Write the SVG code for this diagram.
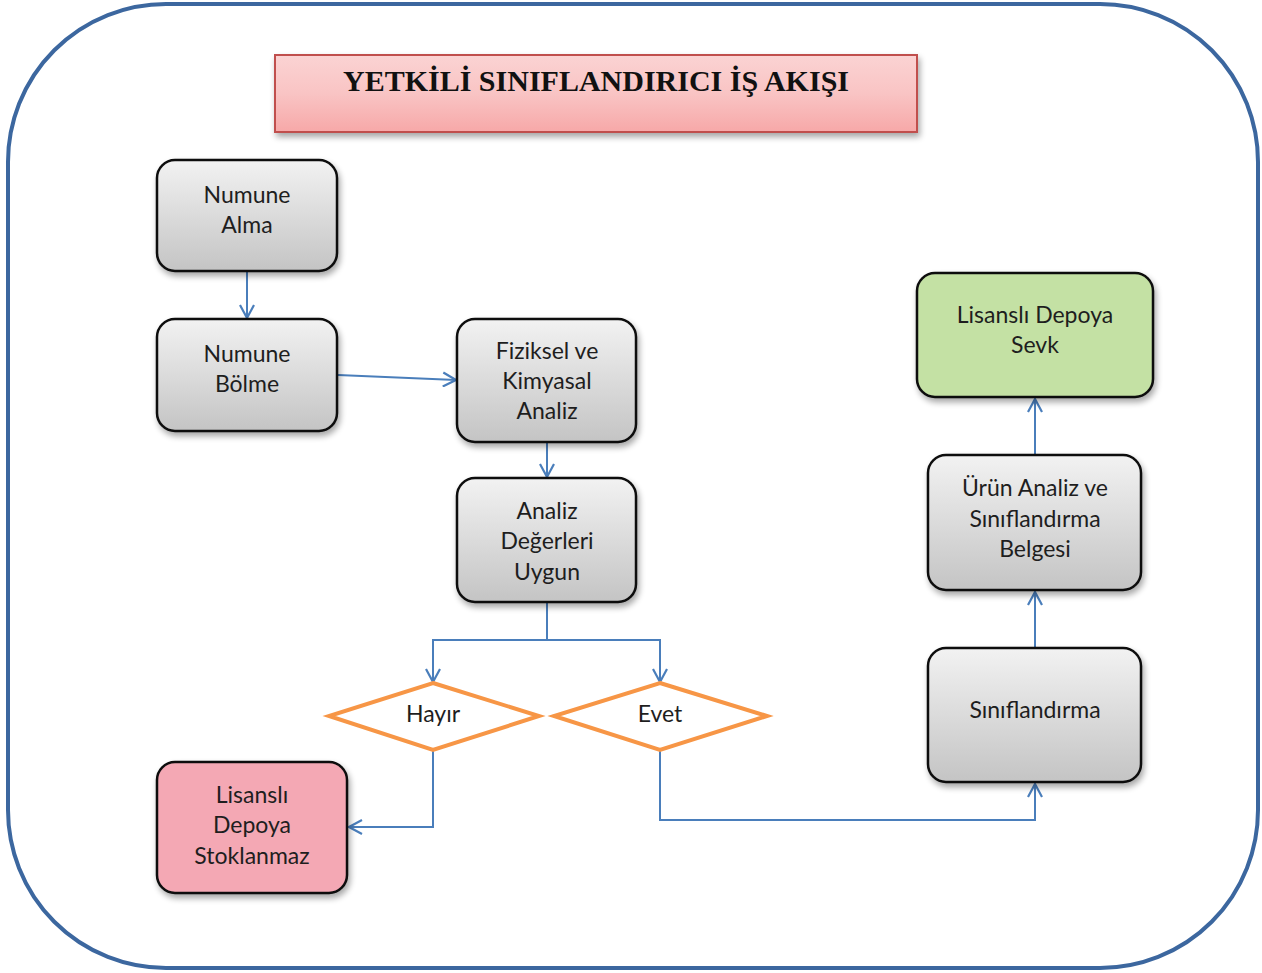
<svg xmlns="http://www.w3.org/2000/svg" width="1262" height="973" viewBox="0 0 1262 973">
<defs>
<linearGradient id="gGray" x1="0" y1="0" x2="0" y2="1">
<stop offset="0" stop-color="#f2f2f2"/><stop offset="1" stop-color="#c4c4c4"/>
</linearGradient>
<linearGradient id="gTitle" x1="0" y1="0" x2="0" y2="1">
<stop offset="0" stop-color="#fbd3d3"/><stop offset="0.5" stop-color="#f9c4c4"/><stop offset="1" stop-color="#f7a8a8"/>
</linearGradient>
<filter id="sh" x="-10%" y="-10%" width="125%" height="130%">
<feGaussianBlur in="SourceAlpha" stdDeviation="3"/>
<feOffset dx="2" dy="4" result="b"/>
<feComponentTransfer><feFuncA type="linear" slope="0.35"/></feComponentTransfer>
<feMerge><feMergeNode/><feMergeNode in="SourceGraphic"/></feMerge>
</filter>
<marker id="ah" viewBox="0 0 16 16" refX="15" refY="8" markerWidth="16" markerHeight="16" markerUnits="userSpaceOnUse" orient="auto">
<path d="M2,1 L15,8 L2,15" fill="none" stroke="#4a7ebb" stroke-width="2.2"/>
</marker>
</defs>
<style>
.node{stroke:#111;stroke-width:2.5;filter:url(#sh)}
.gray{fill:url(#gGray)}
.t{font-family:Lato,"Open Sans","Liberation Sans",sans-serif;font-size:23px;fill:#1e1e1e;text-anchor:middle}
.dia{fill:#fff;stroke:#f79646;stroke-width:4}
.c{fill:none;stroke:#4a7ebb;stroke-width:2}
</style>
<rect x="0" y="0" width="1262" height="973" fill="#fff"/>
<rect id="frame" x="8" y="4" width="1250" height="964" rx="158" ry="158" fill="#fff" stroke="#3c679f" stroke-width="4"/>

<g id="title">
<rect x="275" y="55" width="642" height="77" fill="url(#gTitle)" stroke="#c0504d" stroke-width="2" filter="url(#sh)"/>
<text x="596" y="84" dominant-baseline="middle" text-anchor="middle" font-family="'Liberation Serif',serif" font-weight="bold" font-size="30" fill="#111">YETKİLİ SINIFLANDIRICI İŞ AKIŞI</text>
</g>

<g id="connectors">
<line class="c" x1="247" y1="272" x2="247" y2="318" marker-end="url(#ah)"/>
<line class="c" x1="338" y1="375" x2="456" y2="380" marker-end="url(#ah)"/>
<line class="c" x1="547" y1="443" x2="547" y2="477" marker-end="url(#ah)"/>
<polyline class="c" points="547,603 547,640 433,640 433,682" marker-end="url(#ah)"/>
<polyline class="c" points="547,640 660,640 660,682" marker-end="url(#ah)"/>
<polyline class="c" points="433,751 433,827 349,827" marker-end="url(#ah)"/>
<polyline class="c" points="660,751 660,820 1035,820 1035,784" marker-end="url(#ah)"/>
<line class="c" x1="1035" y1="648" x2="1035" y2="592" marker-end="url(#ah)"/>
<line class="c" x1="1035" y1="455" x2="1035" y2="399" marker-end="url(#ah)"/>
</g>

<g id="n-numune-alma">
<rect class="node gray" x="157" y="160" width="180" height="111" rx="18"/>
<text class="t" x="247" y="203">Numune</text>
<text class="t" x="247" y="233">Alma</text>
</g>
<g id="n-numune-bolme">
<rect class="node gray" x="157" y="319" width="180" height="112" rx="18"/>
<text class="t" x="247" y="362">Numune</text>
<text class="t" x="247" y="392">Bölme</text>
</g>
<g id="n-fiziksel">
<rect class="node gray" x="457" y="319" width="179" height="123" rx="18"/>
<text class="t" x="547" y="359">Fiziksel ve</text>
<text class="t" x="547" y="389">Kimyasal</text>
<text class="t" x="547" y="419">Analiz</text>
</g>
<g id="n-analiz-degerleri">
<rect class="node gray" x="457" y="478" width="179" height="124" rx="18"/>
<text class="t" x="547" y="519">Analiz</text>
<text class="t" x="547" y="549">Değerleri</text>
<text class="t" x="547" y="580">Uygun</text>
</g>
<g id="d-hayir">
<polygon class="dia" points="433,683 539,716 433,750 329,716"/>
<text class="t" x="433" y="722" font-size="18">Hayır</text>
</g>
<g id="d-evet">
<polygon class="dia" points="660,683 767,716 660,750 554,716"/>
<text class="t" x="660" y="722" font-size="18">Evet</text>
</g>
<g id="n-stoklanmaz">
<rect class="node" x="157" y="762" width="190" height="131" rx="18" fill="#f4a8b4"/>
<text class="t" x="252" y="803" fill="#3a1420">Lisanslı</text>
<text class="t" x="252" y="833" fill="#3a1420">Depoya</text>
<text class="t" x="252" y="864" fill="#3a1420">Stoklanmaz</text>
</g>
<g id="n-siniflandirma">
<rect class="node gray" x="928" y="648" width="213" height="134" rx="18"/>
<text class="t" x="1035" y="718">Sınıflandırma</text>
</g>
<g id="n-belge">
<rect class="node gray" x="928" y="455" width="213" height="135" rx="18"/>
<text class="t" x="1035" y="496">Ürün Analiz ve</text>
<text class="t" x="1035" y="527">Sınıflandırma</text>
<text class="t" x="1035" y="557">Belgesi</text>
</g>
<g id="n-sevk">
<rect class="node" x="917" y="273" width="236" height="124" rx="18" fill="#c4e1a4"/>
<text class="t" x="1035" y="323" fill="#1d3a10">Lisanslı Depoya</text>
<text class="t" x="1035" y="353" fill="#1d3a10">Sevk</text>
</g>
</svg>
